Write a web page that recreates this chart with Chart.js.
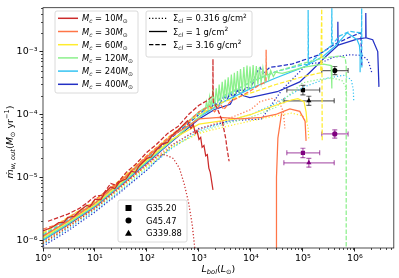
<!DOCTYPE html>
<html>
<head>
<meta charset="utf-8">
<script src="https://cdn.jsdelivr.net/npm/chart.js@4/dist/chart.umd.min.js"></script>
<style>
  html, body { margin: 0; padding: 0; background: #fff; }
  #wrap { width: 399px; height: 278px; }
</style>
</head>
<body>
<div id="wrap"><canvas id="chart" width="399" height="278"></canvas></div>
<script>
// =============== Data ===============
const xTickVals = [1, 10, 100, 1e3, 1e4, 1e5, 1e6];
const xTickLabels = ['10⁰', '10¹', '10²', '10³', '10⁴', '10⁵', '10⁶'];
const yTickVals = [1e-6, 1e-5, 1e-4, 1e-3];
const yTickLabels = ['10⁻⁶', '10⁻⁵', '10⁻⁴', '10⁻³'];

const masses = [10, 30, 60, 120, 240, 400];
const massColors = ['#cc2b2b', '#ff7547', '#ffec2e', '#8cf08c', '#35c3f2', '#2330c4'];
const sigmaLabels = ['0.316', '1', '3.16'];

// [L_bol, mdot] pairs
const m10_dot = [[1,8.9e-7],[3.2,1.66e-6],[10,3.2e-6],[32,7.1e-6],[100,1.6e-5],[160,2.2e-5],[220,2.3e-5],[320,2.0e-5],[420,1.4e-5],[520,7.9e-6],[630,4.0e-6],[740,1.8e-6],[850,6.3e-7]];
const m10_solid = [[1,1.4e-6],[1.5,1.6e-6],[2,1.9e-6],[2.5,1.9e-6],[3,2.3e-6],[4,2.4e-6],[5,2.9e-6],[7,3.6e-6],[8,3.4e-6],[10,4.5e-6],[13,4.4e-6],[15,5.5e-6],[20,7.0e-6],[24,6.6e-6],[30,8.5e-6],[40,9.5e-6],[50,1.25e-5],[60,1.2e-5],[70,1.5e-5],[100,2.0e-5],[120,2.1e-5],[150,2.7e-5],[200,3.4e-5],[250,3.6e-5],[300,4.6e-5],[400,5.6e-5],[500,6.8e-5],[600,7.9e-5],[700,6.0e-5],[780,6.9e-5],[850,5.0e-5],[920,5.5e-5],[1000,4.0e-5],[1080,4.3e-5],[1150,3.0e-5],[1250,3.2e-5],[1350,2.2e-5],[1450,2.3e-5],[1550,1.4e-5],[1650,1.2e-5],[1860,6.3e-6]];
const m10_dash = [[1.25,2.0e-6],[2,2.3e-6],[3,2.6e-6],[5,3.2e-6],[7,3.9e-6],[10,5.0e-6],[14,5.2e-6],[20,8.0e-6],[25,7.5e-6],[40,1.2e-5],[60,1.6e-5],[100,2.5e-5],[150,3.3e-5],[250,5.0e-5],[400,6.5e-5],[630,1.0e-4],[1000,1.4e-4],[1500,1.7e-4],[1850,2.0e-4],[1860,7.6e-4],[1880,1.6e-4],[2240,1.26e-4],[2800,7.9e-5],[3300,4.0e-5],[3400,3.2e-5],[3800,1.8e-5]];

const m30_dot = [[1,9.5e-7],[3,1.7e-6],[10,3.3e-6],[30,7.0e-6],[100,1.6e-5],[300,3.3e-5],[1000,5.8e-5],[3000,8.0e-5],[1e4,1.2e-4],[1.5e4,1.6e-4],[2.5e4,1.8e-4],[3.5e4,1.6e-4],[4.2e4,1.1e-4],[4.5e4,6.0e-5]];
const m30_solid = [[1,1.15e-6],[3,2.0e-6],[10,3.9e-6],[30,8.5e-6],[100,2.1e-5],[300,4.5e-5],[1000,8.5e-5],[2500,9.0e-5],[6300,8.5e-5],[1.6e4,9.0e-5],[3.0e4,1.0e-4],[4.0e4,1.1e-4],[5.6e4,1.23e-4],[8.7e4,1.12e-4],[1.1e5,7.8e-5],[1.15e5,3.8e-5],[4.0e4,null],[3.9e4,1.05e-4],[3.3e4,4.2e-5],[3.1e4,1.0e-5],[3.1e4,7.0e-7]];
const m30_dash = [[1,1.5e-6],[2,1.8e-6],[4,2.6e-6],[7,3.2e-6],[10,4.4e-6],[20,6.8e-6],[40,1.05e-5],[100,2.2e-5],[250,4.2e-5],[600,7.5e-5],[1000,1.1e-4],[1600,1.35e-4],[2000,1.1e-4],[2600,1.45e-4],[3000,1.2e-4],[4000,1.6e-4],[6000,1.9e-4],[1e4,2.4e-4],[1.5e4,3.0e-4],[1.95e4,3.3e-4],[1.96e4,1.07e-3],[1.98e4,4.2e-4]];

const m60_dot = [[1,9.2e-7],[3,1.65e-6],[10,3.2e-6],[30,6.6e-6],[100,1.5e-5],[300,3.1e-5],[1000,5.0e-5],[3000,6.3e-5],[1e4,7.9e-5],[3e4,9.5e-5],[6e4,1.05e-4],[1e5,9.5e-5],[1.25e5,6.5e-5],[1.3e5,4.0e-5]];
const m60_solid = [[1,1.1e-6],[3,1.95e-6],[10,3.7e-6],[30,8.0e-6],[100,1.9e-5],[300,4.0e-5],[1000,7.0e-5],[2000,7.6e-5],[5000,8.5e-5],[1e4,1.0e-4],[3e4,1.4e-4],[6e4,1.7e-4],[8e4,1.78e-4],[1.05e5,1.6e-4],[1.15e5,1.1e-4],[1.2e5,7.5e-5]];
const m60_dash = [[1,1.3e-6],[3,2.3e-6],[10,4.2e-6],[30,9.0e-6],[100,2.2e-5],[300,4.8e-5],[1000,1.0e-4],[3000,1.6e-4],[1e4,2.2e-4],[3e4,3.0e-4],[1e5,4.0e-4],[2.2e5,4.6e-4],[2.3e5,4.8e-3],[2.35e5,3.8e-5]];

const m120_dot = [[1,9.0e-7],[3,1.6e-6],[10,3.1e-6],[30,6.3e-6],[100,1.45e-5],[300,3.0e-5],[1000,5.2e-5],[3000,7.0e-5],[1e4,9.0e-5],[3e4,1.3e-4],[6e4,2.2e-4],[1e5,3.2e-4],[2e5,3.6e-4],[3.5e5,3.8e-4],[5.6e5,3.5e-4],[6.6e5,2.8e-4],[7e5,1.8e-4]];
const m120_solid = [[1,1.05e-6],[3,1.85e-6],[10,3.6e-6],[30,7.6e-6],[100,1.8e-5],[300,3.8e-5],[1000,9.0e-5],[1300,1.1e-4],[1400,1.6e-4],[1500,1.2e-4],[1600,1.9e-4],[1700,1.3e-4],[1850,2.3e-4],[2000,1.4e-4],[2150,2.6e-4],[2300,1.5e-4],[2450,3.0e-4],[2600,1.6e-4],[2800,3.3e-4],[3000,1.7e-4],[3200,3.6e-4],[3400,1.8e-4],[3650,3.9e-4],[3900,1.9e-4],[4200,4.3e-4],[4500,2.0e-4],[4800,4.6e-4],[5100,2.1e-4],[5500,4.9e-4],[5900,2.2e-4],[6300,5.3e-4],[6800,2.3e-4],[7300,5.7e-4],[7800,2.4e-4],[8400,6.0e-4],[9000,2.5e-4],[9600,5.8e-4],[1.03e4,2.6e-4],[1.1e4,6.1e-4],[1.18e4,2.8e-4],[1.27e4,5.9e-4],[1.36e4,3.0e-4],[1.46e4,5.7e-4],[1.57e4,3.2e-4],[1.7e4,5.5e-4],[1.85e4,3.4e-4],[2.0e4,5.2e-4],[2.2e4,3.6e-4],[2.4e4,5.0e-4],[2.7e4,4.0e-4],[3.0e4,4.7e-4],[4e4,4.5e-4],[6.3e4,5.0e-4],[1e5,5.6e-4],[1.6e5,6.0e-4],[2.5e5,6.3e-4],[3.5e5,6.0e-4],[3.6e5,2.6e-4]];
const m120_dash = [[1,1.25e-6],[3,2.2e-6],[10,4.0e-6],[30,8.6e-6],[100,2.1e-5],[300,4.6e-5],[1000,1.1e-4],[3000,2.0e-4],[1e4,3.3e-4],[3e4,4.8e-4],[1e5,6.5e-4],[2.5e5,7.9e-4],[5e5,8.5e-4],[6.5e5,8.0e-4],[6.8e5,6.0e-4],[6.8e5,7.0e-7]];

const m240_dot = [[1,8.5e-7],[3,1.5e-6],[10,2.95e-6],[30,6.0e-6],[100,1.35e-5],[300,2.9e-5],[1000,5.5e-5],[3000,7.5e-5],[1e4,1.0e-4],[3e4,1.5e-4],[1e5,2.7e-4],[3e5,3.8e-4],[6e5,4.2e-4],[8.5e5,3.6e-4],[9.3e5,2.5e-4],[9.5e5,1.6e-4]];
const m240_solid = [[1,1.0e-6],[3,1.8e-6],[10,3.45e-6],[30,7.3e-6],[100,1.75e-5],[300,3.8e-5],[1000,9.0e-5],[3000,1.6e-4],[1e4,2.6e-4],[3e4,3.8e-4],[1e5,5.6e-4],[2.5e5,8.5e-4],[4.2e5,1.23e-3],[7.1e5,2.0e-3],[1.1e6,1.55e-3],[1.22e6,1.26e-3],[1.26e6,9.5e-4],[1.26e6,4.7e-4]];
const m240_dash = [[1,1.2e-6],[3,2.1e-6],[10,3.9e-6],[30,8.4e-6],[100,2.0e-5],[300,4.4e-5],[1000,1.05e-4],[3000,1.9e-4],[1e4,3.3e-4],[3e4,4.8e-4],[1.1e5,6.3e-4],[1.26e5,6.0e-4],[1.26e5,4.6e-3],[1.28e5,6.5e-4],[2.5e5,1.0e-3],[3.55e5,1.25e-3],[3.6e5,4.9e-3],[3.65e5,1.3e-3],[5.1e5,1.78e-3],[7.9e5,2.1e-3],[1.26e6,2.0e-3],[1.34e6,1.9e-3],[1.35e6,4.9e-3],[1.36e6,5.6e-4]];

const m400_dot = [[1,8.0e-7],[3,1.4e-6],[10,2.8e-6],[30,5.7e-6],[100,1.3e-5],[300,3.2e-5],[1000,6.0e-5],[4000,7.9e-5],[1.6e4,8.5e-5],[4e4,2.5e-4],[1.2e5,6.3e-4],[2.4e5,6.8e-4],[3.8e5,8.1e-4],[7.9e5,8.9e-4],[1.4e6,8.7e-4],[1.8e6,7.2e-4],[2.1e6,4.7e-4]];
const m400_solid = [[1,1.0e-6],[3,1.75e-6],[10,3.4e-6],[30,7.2e-6],[100,1.7e-5],[300,3.7e-5],[1000,8.5e-5],[2000,1.2e-4],[4000,1.45e-4],[5400,2.4e-4],[7000,2.0e-4],[9500,1.86e-4],[3.2e4,2.3e-4],[8.7e4,3.3e-4],[1.55e5,5.2e-4],[2.9e5,8.7e-4],[4.7e5,1.25e-3],[4.7e5,3.0e-3],[4.75e5,1.27e-3],[5.1e5,1.29e-3],[1.1e6,1.58e-3],[1.62e6,1.66e-3],[1.62e6,4.1e-3],[1.64e6,1.66e-3],[2.2e6,1.55e-3],[2.75e6,1.0e-3],[2.9e6,2.75e-4]];
const m400_dash = [[1,1.15e-6],[3,2.0e-6],[10,3.8e-6],[30,8.2e-6],[100,1.95e-5],[300,4.3e-5],[1000,1.0e-4],[1300,1.2e-4],[1500,1.1e-4],[2000,1.5e-4],[2400,1.4e-4],[3000,1.9e-4],[3500,1.75e-4],[4000,2.2e-4],[4500,1.9e-4],[6000,2.5e-4],[7000,2.3e-4],[8000,2.7e-4],[9500,2.6e-4],[1.1e4,3.2e-4],[1.3e4,4.7e-4],[1.5e4,5.6e-4],[1.7e4,4.5e-4],[2.3e4,5.6e-4],[6e4,6.3e-4],[1.9e5,8.7e-4],[4e5,1.3e-3],[8e5,1.7e-3],[1.3e6,2.0e-3],[1.36e6,6.0e-4]];

// observed sources (black = upper estimate, purple = lower estimate)
const obsNames = ['G35.20', 'G45.47', 'G339.88'];
const obsMarkers = ['rect', 'circle', 'triangle'];
const obsL = [1.0e5, 4.1e5, 1.3e5];
const obsLlo = [4.9e4, 2.3e5, 4.3e4];
const obsLhi = [2.1e5, 7.4e5, 4.0e5];
const obsHi = [2.45e-4, 5.0e-4, 1.65e-4];
const obsHiLo = [2.05e-4, 4.3e-4, 1.4e-4];
const obsHiHi = [2.9e-4, 5.8e-4, 1.95e-4];
const obsLow = [2.45e-5, 4.9e-5, 1.7e-5];
const obsLowLo = [2.05e-5, 4.2e-5, 1.45e-5];
const obsLowHi = [2.9e-5, 5.7e-5, 2.0e-5];

const models = [
  [m10_dot, m10_solid, m10_dash],
  [m30_dot, m30_solid, m30_dash],
  [m60_dot, m60_solid, m60_dash],
  [m120_dot, m120_solid, m120_dash],
  [m240_dot, m240_solid, m240_dash],
  [m400_dot, m400_solid, m400_dash],
];

// =============== Helpers ===============
const FONT = '"DejaVu Sans", sans-serif';
const dashStyles = [[1.2, 2], [], [4.4, 1.9]];

function toXY(arr) {
  return arr.map(([x, y]) => ({ x, y }));
}

function drawRich(ctx, parts, x, y, size) {
  let cx = x;
  parts.forEach(([t, k]) => {
    const small = k.includes('sub') || k.includes('sup');
    const fs = small ? size * 0.7 : size;
    const ital = k.startsWith('i');
    ctx.font = `${ital ? 'italic ' : ''}${fs}px ${FONT}`;
    const dy = k.includes('sub') ? size * 0.25 : k.includes('sup') ? -size * 0.4 : 0;
    ctx.fillText(t, cx, y + dy);
    cx += ctx.measureText(t).width;
  });
  return cx - x;
}

function richWidth(ctx, parts, size) {
  let w = 0;
  parts.forEach(([t, k]) => {
    const small = k.includes('sub') || k.includes('sup');
    const fs = small ? size * 0.7 : size;
    ctx.font = `${k.startsWith('i') ? 'italic ' : ''}${fs}px ${FONT}`;
    w += ctx.measureText(t).width;
  });
  return w;
}

function legendBox(ctx, x, y, w, h) {
  ctx.save();
  ctx.beginPath();
  ctx.roundRect(x, y, w, h, 2);
  ctx.fillStyle = 'rgba(255,255,255,0.85)';
  ctx.fill();
  ctx.strokeStyle = '#d0d0d0';
  ctx.lineWidth = 0.8;
  ctx.stroke();
  ctx.restore();
}

// =============== Datasets ===============
const datasets = [];
models.forEach((group, mi) => {
  group.forEach((arr, si) => {
    datasets.push({
      data: toXY(arr),
      borderColor: massColors[mi],
      borderWidth: 1.25,
      borderDash: dashStyles[si],
      pointRadius: 0,
      tension: 0,
      spanGaps: false,
      fill: false,
    });
  });
});

function errorSets(yVals, yLo, yHi, color, barColor) {
  obsNames.forEach((n, i) => {
    datasets.push({
      data: [{ x: obsLlo[i], y: yVals[i] }, { x: obsLhi[i], y: yVals[i] }],
      borderColor: barColor, borderWidth: 1.2,
      pointStyle: 'line', pointRotation: 90, pointRadius: 2.5,
      pointBorderColor: barColor, pointBorderWidth: 1.2,
    });
    datasets.push({
      data: [{ x: obsL[i], y: yLo[i] }, { x: obsL[i], y: yHi[i] }],
      borderColor: barColor, borderWidth: 1.2,
      pointStyle: 'line', pointRotation: 0, pointRadius: 2.5,
      pointBorderColor: barColor, pointBorderWidth: 1.2,
    });
  });
  obsNames.forEach((n, i) => {
    datasets.push({
      type: 'scatter',
      data: [{ x: obsL[i], y: yVals[i] }],
      pointStyle: obsMarkers[i],
      pointRadius: obsMarkers[i] === 'circle' ? 2.6 : 3,
      backgroundColor: color, borderColor: color, borderWidth: 0,
    });
  });
}
errorSets(obsHi, obsHiLo, obsHiHi, '#000000', 'rgba(0,0,0,0.6)');
errorSets(obsLow, obsLowLo, obsLowHi, '#800080', 'rgba(128,0,128,0.6)');

// =============== Decorations ===============
const decorations = {
  id: 'decorations',
  afterDraw(chart) {
    const { ctx, chartArea: a, scales: { x, y } } = chart;
    ctx.save();
    ctx.strokeStyle = '#222';
    ctx.lineWidth = 0.8;
    // minor ticks
    ctx.beginPath();
    for (let d = 0; d <= 6; d++) {
      for (let k = 2; k <= 9; k++) {
        const v = k * Math.pow(10, d);
        if (v > x.max) continue;
        const px = Math.round(x.getPixelForValue(v)) + 0.5;
        ctx.moveTo(px, a.bottom); ctx.lineTo(px, a.bottom + 2);
      }
    }
    for (let d = -7; d <= -3; d++) {
      for (let k = 2; k <= 9; k++) {
        const v = k * Math.pow(10, d);
        if (v < y.min || v > y.max) continue;
        const py = Math.round(y.getPixelForValue(v)) + 0.5;
        ctx.moveTo(a.left, py); ctx.lineTo(a.left - 2, py);
      }
    }
    ctx.stroke();
    // frame
    ctx.strokeRect(a.left, a.top, a.right - a.left, a.bottom - a.top);

    ctx.fillStyle = '#000';
    ctx.textBaseline = 'alphabetic';
    const fs = 8.4;

    // mass legend
    legendBox(ctx, 55, 11, 83, 82);
    masses.forEach((m, i) => {
      const ry = 18.3 + i * 13.2;
      ctx.strokeStyle = massColors[i];
      ctx.lineWidth = 1.5;
      ctx.setLineDash([]);
      ctx.beginPath(); ctx.moveTo(58, ry); ctx.lineTo(78, ry); ctx.stroke();
      ctx.fillStyle = '#000';
      drawRich(ctx, [['M', 'i'], ['c', 'isub'], [' = ' + m, ''], ['M', 'i'], ['⊙', 'sub']], 82, ry + 3, fs);
    });

    // surface density legend
    legendBox(ctx, 146, 11, 106, 46);
    sigmaLabels.forEach((s, i) => {
      const ry = 18.3 + i * 13.2;
      ctx.strokeStyle = '#000';
      ctx.lineWidth = 1.3;
      ctx.setLineDash(dashStyles[i]);
      ctx.beginPath(); ctx.moveTo(149, ry); ctx.lineTo(167, ry); ctx.stroke();
      ctx.setLineDash([]);
      drawRich(ctx, [['Σ', ''], ['cl', 'isub'], [' = ' + s + ' g/cm', ''], ['2', 'sup']], 173, ry + 3, fs);
    });

    // source legend
    legendBox(ctx, 118, 200, 69, 42);
    obsNames.forEach((n, i) => {
      const ry = 208 + i * 12.6;
      ctx.fillStyle = '#000';
      ctx.beginPath();
      if (obsMarkers[i] === 'rect') ctx.rect(125.5, ry - 3, 6, 6);
      else if (obsMarkers[i] === 'circle') ctx.arc(128.5, ry, 3, 0, Math.PI * 2);
      else { ctx.moveTo(128.5, ry - 3.5); ctx.lineTo(132, ry + 2.6); ctx.lineTo(125, ry + 2.6); ctx.closePath(); }
      ctx.fill();
      ctx.font = `${fs}px ${FONT}`;
      ctx.fillText(n, 146, ry + 3);
    });

    // axis titles
    const tfs = 9.5;
    const xParts = [['L', 'i'], ['bol', 'isub'], ['(', ''], ['L', 'i'], ['⊙', 'sub'], [')', '']];
    const xw = richWidth(ctx, xParts, tfs);
    drawRich(ctx, xParts, (a.left + a.right) / 2 - xw / 2, 272, tfs);

    const yParts = [['ṁ', 'i'], ['w, out', 'isub'], ['(', ''], ['M', 'i'], ['⊙', 'sub'], [' yr', ''], ['−1', 'sup'], [')', '']];
    const yw = richWidth(ctx, yParts, tfs);
    ctx.translate(13, 142);
    ctx.rotate(-Math.PI / 2);
    drawRich(ctx, yParts, -yw / 2, 0, tfs);
    ctx.restore();
  },
};

// =============== Chart ===============
new Chart(document.getElementById('chart'), {
  type: 'line',
  data: { datasets },
  options: {
    responsive: false,
    animation: false,
    devicePixelRatio: 1,
    parsing: true,
    layout: { padding: { top: 4, right: 5, left: 0, bottom: 0 } },
    plugins: { legend: { display: false }, tooltip: { enabled: false } },
    scales: {
      x: {
        type: 'logarithmic',
        min: 1,
        max: 5.6e6,
        afterBuildTicks: (s) => { s.ticks = xTickVals.map((v) => ({ value: v })); },
        afterFit: (s) => { s.height = 30; },
        ticks: {
          autoSkip: false, maxRotation: 0, padding: 1, color: '#000',
          font: { family: FONT, size: 9.5 },
          callback: (v) => xTickLabels[xTickVals.indexOf(v)],
        },
        grid: { drawOnChartArea: false, tickLength: 3.5, color: '#222' },
        border: { display: false },
      },
      y: {
        type: 'logarithmic',
        min: 7.5e-7,
        max: 5e-3,
        afterBuildTicks: (s) => { s.ticks = yTickVals.map((v) => ({ value: v })); },
        afterFit: (s) => { s.width = 43; },
        ticks: {
          autoSkip: false, padding: 2, color: '#000',
          font: { family: FONT, size: 9.5 },
          callback: (v) => yTickLabels[yTickVals.findIndex((t) => Math.abs(t - v) / t < 1e-6)],
        },
        grid: { drawOnChartArea: false, tickLength: 3.5, color: '#222' },
        border: { display: false },
      },
    },
  },
  plugins: [decorations],
});
</script>
</body>
</html>
